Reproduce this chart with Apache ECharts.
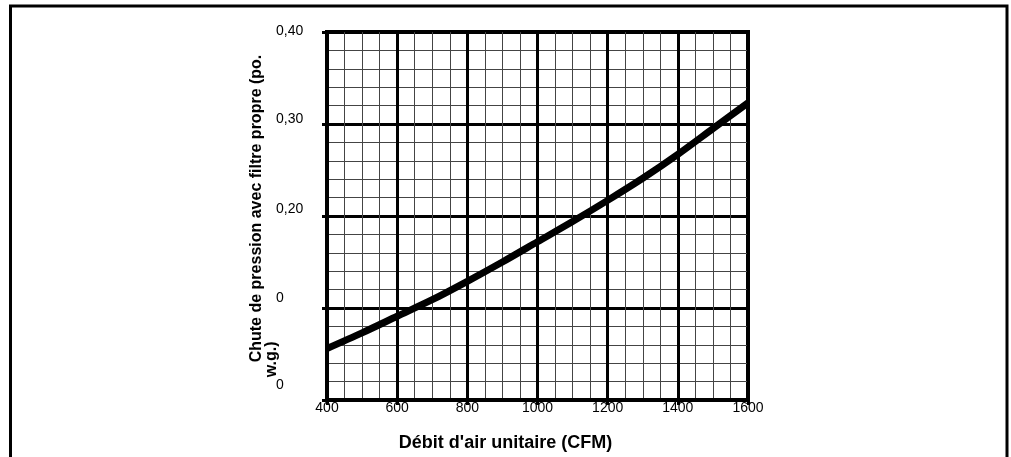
<!DOCTYPE html>
<html>
<head>
<meta charset="utf-8">
<script src="https://cdn.jsdelivr.net/npm/echarts@6/dist/echarts.min.js"></script>
<style>
html,body{margin:0;padding:0;background:#fff;}
#c{width:1011px;height:457px;}
</style>
</head>
<body>
<div id="c"></div>
<script>
// Data
const flowCFM = [400, 500, 600, 700, 800, 900, 1000, 1100, 1200, 1300, 1400, 1500, 1600];
const pressureDrop = [0.056, 0.073, 0.091, 0.109, 0.129, 0.150, 0.172, 0.194, 0.217, 0.241, 0.267, 0.295, 0.323];
const yTickLabels = ['0', '0', '0,20', '0,30', '0,40'];
const xAxisTitle = "Débit d'air unitaire (CFM)";
const yAxisTitleLine1 = 'Chute de pression avec filtre propre (po.';
const yAxisTitleLine2 = 'w.g.)';

const FONT = '"Liberation Sans", Arial, Helvetica, sans-serif';
const yLabelShift = [15, 10, 7, 5, 1];
const richY = {};
yLabelShift.forEach((s, i) => {
  richY['l' + i] = { fontFamily: FONT, fontSize: 14, color: '#000', padding: [0, 0, 2 * s, 0] };
});

const chart = echarts.init(document.getElementById('c'), null, { renderer: 'canvas' });
chart.setOption({
  backgroundColor: '#fff',
  animation: false,
  graphic: [{
    type: 'rect',
    shape: { x: 10.5, y: 6, width: 996.5, height: 470 },
    style: { fill: 'none', stroke: '#000', lineWidth: 3 },
    silent: true, z: 100
  }],
  grid: {
    left: 327, right: 263, top: 32, bottom: 54,
    show: true, borderColor: '#000', borderWidth: 4, backgroundColor: '#fff'
  },
  xAxis: {
    type: 'value', min: 400, max: 1600, interval: 200,
    name: xAxisTitle, nameLocation: 'middle', nameGap: 34, nameMoveOverlap: false,
    nameTextStyle: { fontFamily: FONT, fontSize: 18, fontWeight: 'bold', color: '#000', padding: [0, 64, 0, 0] },
    axisLine: { show: true, lineStyle: { color: '#000', width: 4 } },
    axisTick: { show: true, length: 5, lineStyle: { color: '#000', width: 3 } },
    axisLabel: { fontFamily: FONT, fontSize: 14, color: '#000', margin: 1, formatter: function (v) { return String(v); } },
    splitLine: { show: true, lineStyle: { color: '#000', width: 3 } },
    minorTick: { show: false, splitNumber: 4 },
    minorSplitLine: { show: true, lineStyle: { color: '#444', width: 1 } }
  },
  yAxis: {
    type: 'value', min: 0, max: 0.4, interval: 0.1,
    name: '{a|' + yAxisTitleLine1 + '}\n{b|' + yAxisTitleLine2 + '}',
    nameLocation: 'middle', nameRotate: 90, nameGap: 48, nameMoveOverlap: false,
    nameTextStyle: {
      fontFamily: FONT, fontSize: 16, fontWeight: 'bold', color: '#000', lineHeight: 15,
      rich: {
        a: { fontFamily: FONT, fontSize: 16, fontWeight: 'bold', color: '#000', lineHeight: 15, align: 'left', padding: [0, 0, 0, 15] },
        b: { fontFamily: FONT, fontSize: 16, fontWeight: 'bold', color: '#000', lineHeight: 15, align: 'left' }
      }
    },
    axisLine: { show: true, lineStyle: { color: '#000', width: 4 } },
    axisTick: { show: true, length: 5, lineStyle: { color: '#000', width: 3 } },
    axisLabel: {
      align: 'left', margin: 51,
      fontFamily: FONT, fontSize: 14, color: '#000',
      formatter: function (v, i) { return '{l' + i + '|' + yTickLabels[i] + '}'; },
      rich: richY
    },
    splitLine: { show: true, lineStyle: { color: '#000', width: 3 } },
    minorTick: { show: false, splitNumber: 5 },
    minorSplitLine: { show: true, lineStyle: { color: '#444', width: 1 } }
  },
  series: [{
    type: 'line',
    data: flowCFM.map((x, i) => [x, pressureDrop[i]]),
    smooth: 0.3,
    showSymbol: false,
    lineStyle: { color: '#000', width: 7 },
    z: 10
  }]
});
</script>
</body>
</html>
